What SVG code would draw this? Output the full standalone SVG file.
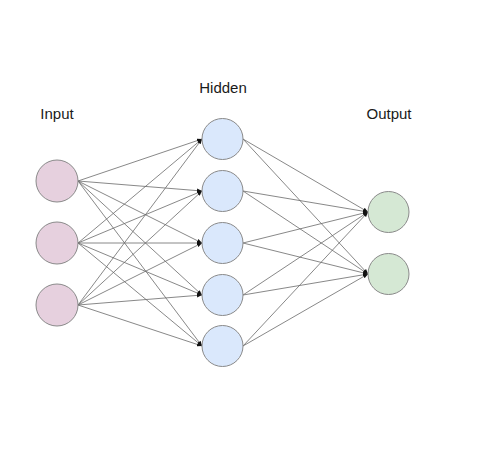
<svg xmlns="http://www.w3.org/2000/svg" width="498" height="470" viewBox="0 0 498 470">
<style>
.lbl{font-family:"Liberation Sans",Arial,sans-serif;font-size:15px;fill:#1a1a1a;text-anchor:middle}
.in{fill:#e6d0de;stroke:#8a8a8a;stroke-width:1}
.hid{fill:#dae8fc;stroke:#8a8a8a;stroke-width:1}
.out{fill:#d5e8d4;stroke:#8a8a8a;stroke-width:1}
#edges line{stroke:#6a6a6a;stroke-width:0.8;marker-end:url(#ah)}
</style>
<defs>
<marker id="ah" viewBox="0 0 10 10" refX="10" refY="5" markerWidth="5" markerHeight="5" orient="auto" markerUnits="userSpaceOnUse">
<path d="M0,1 L10,5 L0,9 z" fill="#111"/>
</marker>
</defs>
<rect width="498" height="470" fill="#fff"/>
<text class="lbl" x="57" y="119">Input</text>
<text class="lbl" x="223" y="93">Hidden</text>
<text class="lbl" x="389" y="119">Output</text>
<g id="edges">
<line x1="78" y1="181" x2="202" y2="139"/>
<line x1="78" y1="181" x2="202" y2="191"/>
<line x1="78" y1="181" x2="202" y2="243"/>
<line x1="78" y1="181" x2="202" y2="295"/>
<line x1="78" y1="181" x2="202" y2="346"/>
<line x1="78" y1="243" x2="202" y2="139"/>
<line x1="78" y1="243" x2="202" y2="191"/>
<line x1="78" y1="243" x2="202" y2="243"/>
<line x1="78" y1="243" x2="202" y2="295"/>
<line x1="78" y1="243" x2="202" y2="346"/>
<line x1="78" y1="305" x2="202" y2="139"/>
<line x1="78" y1="305" x2="202" y2="191"/>
<line x1="78" y1="305" x2="202" y2="243"/>
<line x1="78" y1="305" x2="202" y2="295"/>
<line x1="78" y1="305" x2="202" y2="346"/>
<line x1="243" y1="139" x2="368" y2="212"/>
<line x1="243" y1="139" x2="368" y2="274"/>
<line x1="243" y1="191" x2="368" y2="212"/>
<line x1="243" y1="191" x2="368" y2="274"/>
<line x1="243" y1="243" x2="368" y2="212"/>
<line x1="243" y1="243" x2="368" y2="274"/>
<line x1="243" y1="295" x2="368" y2="212"/>
<line x1="243" y1="295" x2="368" y2="274"/>
<line x1="243" y1="346" x2="368" y2="212"/>
<line x1="243" y1="346" x2="368" y2="274"/>
</g>
<g id="in1"><circle class="in" cx="57" cy="181" r="21"/></g>
<g id="in2"><circle class="in" cx="57" cy="243" r="21"/></g>
<g id="in3"><circle class="in" cx="57" cy="305" r="21"/></g>
<g id="h1"><circle class="hid" cx="222.5" cy="139" r="20.5"/></g>
<g id="h2"><circle class="hid" cx="222.5" cy="191" r="20.5"/></g>
<g id="h3"><circle class="hid" cx="222.5" cy="243" r="20.5"/></g>
<g id="h4"><circle class="hid" cx="222.5" cy="295" r="20.5"/></g>
<g id="h5"><circle class="hid" cx="222.5" cy="346" r="20.5"/></g>
<g id="o1"><circle class="out" cx="388.5" cy="212" r="20.5"/></g>
<g id="o2"><circle class="out" cx="388.5" cy="274" r="20.5"/></g>
</svg>
